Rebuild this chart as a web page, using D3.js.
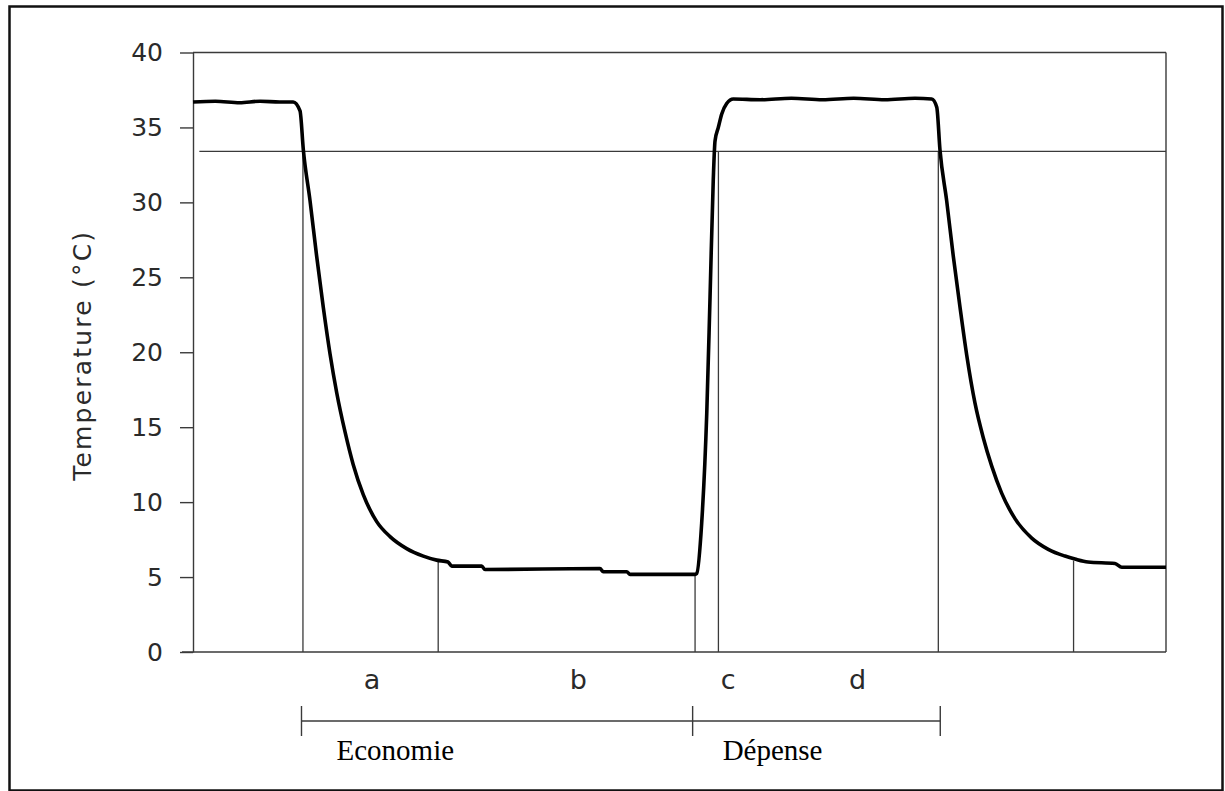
<!DOCTYPE html>
<html>
<head>
<meta charset="utf-8">
<script src="https://cdn.jsdelivr.net/npm/d3@7"></script>
<style>
  html, body { margin: 0; padding: 0; background: #fff; }
  svg { display: block; }
</style>
</head>
<body>
<svg id="chart" width="1225" height="791"></svg>
<script>
// Temperature record (°C) over time (min): two cooling phases and one re-warming
const timeMin = [0, 2.3, 4.8, 6.9, 8.9, 10.3, 11.0, 11.34, 12.03, 12.71, 13.39, 14.08, 14.77, 15.62, 16.47, 17.5, 18.88, 20.25, 21.96, 23.67, 25.05, 26.21, 26.59, 29.67, 30.01, 41.83, 42.17, 44.58, 44.92, 51.59, 51.77, 52.28, 52.8, 53.14, 53.47, 53.65, 53.99, 54.34, 54.85, 55.53, 58.3, 61.5, 64.7, 67.9, 71.1, 74.2, 75.92, 76.44, 76.77, 77.46, 78.14, 78.83, 79.52, 80.37, 81.22, 82.09, 83.11, 84.48, 86.2, 87.9, 89.62, 90.65, 91.98, 94.76, 95.45, 100];
const tempC   = [36.7, 36.75, 36.65, 36.75, 36.7, 36.7, 36.1, 33.5, 30.1, 26.4, 23.0, 19.9, 17.3, 14.7, 12.5, 10.5, 8.7, 7.7, 6.9, 6.4, 6.13, 6.0, 5.73, 5.73, 5.5, 5.57, 5.35, 5.35, 5.18, 5.18, 5.24, 8.6, 15.9, 23.7, 31.5, 34.1, 35.0, 35.9, 36.6, 36.9, 36.85, 36.95, 36.85, 36.95, 36.85, 36.95, 36.9, 36.35, 33.5, 30.1, 26.4, 23.0, 19.8, 16.6, 14.3, 12.4, 10.6, 8.9, 7.6, 6.85, 6.4, 6.2, 6.0, 5.9, 5.65, 5.65];

// Reference temperature line
const thresholdC = 33.4;

// Vertical markers: time and the temperature they reach up to
const markerTime = [11.3, 25.2, 51.6, 54.0, 76.6, 90.5];
const markerTop  = [33.4, 6.0, 5.1, 33.4, 33.4, 6.1];

// Phase letters
const phaseLabels = ["a", "b", "c", "d"];
const phaseTime   = [18.4, 39.6, 55.0, 68.3];

// Bracketed periods below the axis
const periodNames = ["Economie", "Dépense"];
const periodStart = [11.15, 51.35];
const periodEnd   = [51.35, 76.8];

const yTicks = [0, 5, 10, 15, 20, 25, 30, 35, 40];

const svg = d3.select("#chart");
const thin = "#3a3a3a";

const x = d3.scaleLinear().domain([0, 100]).range([193, 1166]);
const y = d3.scaleLinear().domain([0, 40]).range([652, 52.5]);

// Outer border
svg.append("rect")
  .attr("x", 9.5).attr("y", 6.5)
  .attr("width", 1213).attr("height", 784)
  .attr("fill", "none").attr("stroke", "#111").attr("stroke-width", 2.5);

// Frame: top, right and bottom edges
const frame = svg.append("g").attr("stroke", thin).attr("stroke-width", 1.4).attr("fill", "none");
frame.append("line").attr("x1", x(0)).attr("x2", x(100)).attr("y1", y(40)).attr("y2", y(40));
frame.append("line").attr("x1", x(100)).attr("x2", x(100)).attr("y1", y(40)).attr("y2", y(0));
frame.append("line").attr("x1", x(0) - 11).attr("x2", x(100)).attr("y1", y(0)).attr("y2", y(0));

// Y axis
const yAxis = svg.append("g")
  .attr("transform", `translate(${x(0)},0)`)
  .call(d3.axisLeft(y).tickValues(yTicks).tickSize(13).tickSizeOuter(0).tickPadding(17));
yAxis.select(".domain").attr("stroke", thin).attr("stroke-width", 1.4);
yAxis.selectAll(".tick line").attr("stroke", thin).attr("stroke-width", 1.4);
yAxis.selectAll(".tick text")
  .attr("font-family", "DejaVu Sans, sans-serif")
  .attr("font-size", 25)
  .attr("fill", "#2a2a2a");

// Y axis title
svg.append("text")
  .attr("transform", `translate(91,${(y(0) + y(40)) / 2 + 3}) rotate(-90)`)
  .attr("text-anchor", "middle")
  .attr("font-family", "DejaVu Sans, sans-serif")
  .attr("font-size", 25)
  .attr("letter-spacing", 2.2)
  .attr("fill", "#2a2a2a")
  .text("Temperature (°C)");

// Threshold line
svg.append("line")
  .attr("x1", x(0.65)).attr("x2", x(100))
  .attr("y1", y(thresholdC)).attr("y2", y(thresholdC))
  .attr("stroke", thin).attr("stroke-width", 1.4);

// Vertical markers
svg.append("g").selectAll("line")
  .data(markerTime.map((t, i) => ({ t, top: markerTop[i] })))
  .join("line")
  .attr("x1", d => x(d.t)).attr("x2", d => x(d.t))
  .attr("y1", y(0)).attr("y2", d => y(d.top))
  .attr("stroke", thin).attr("stroke-width", 1.3);

// Temperature curve
const line = d3.line()
  .x(d => x(d[0]))
  .y(d => y(d[1]))
  .curve(d3.curveMonotoneX);
svg.append("path")
  .datum(timeMin.map((t, i) => [t, tempC[i]]))
  .attr("d", line)
  .attr("fill", "none")
  .attr("stroke", "#000")
  .attr("stroke-width", 3.6)
  .attr("stroke-linejoin", "round");

// Phase letters
svg.append("g").selectAll("text")
  .data(phaseLabels.map((l, i) => ({ l, t: phaseTime[i] })))
  .join("text")
  .attr("x", d => x(d.t)).attr("y", 689)
  .attr("text-anchor", "middle")
  .attr("font-family", "DejaVu Sans, sans-serif")
  .attr("font-size", 27)
  .attr("fill", "#2a2a2a")
  .text(d => d.l);

// Period brackets
const bracketY = 721;
const br = svg.append("g").attr("stroke", thin).attr("stroke-width", 1.4);
br.append("line")
  .attr("x1", x(periodStart[0])).attr("x2", x(periodEnd[periodEnd.length - 1]))
  .attr("y1", bracketY).attr("y2", bracketY);
const bounds = [periodStart[0], ...periodEnd];
br.selectAll("line.tick")
  .data(bounds)
  .join("line").attr("class", "tick")
  .attr("x1", d => x(d)).attr("x2", d => x(d))
  .attr("y1", bracketY - 15).attr("y2", bracketY + 15);

svg.append("g").selectAll("text")
  .data(periodNames.map((n, i) => ({ n, t: periodStart[i] })))
  .join("text")
  .attr("x", (d, i) => x(d.t) + (i === 0 ? 35 : 30))
  .attr("y", 760)
  .attr("font-family", "Liberation Serif, Times New Roman, serif")
  .attr("font-size", 29)
  .attr("fill", "#000")
  .text(d => d.n);
</script>
</body>
</html>
